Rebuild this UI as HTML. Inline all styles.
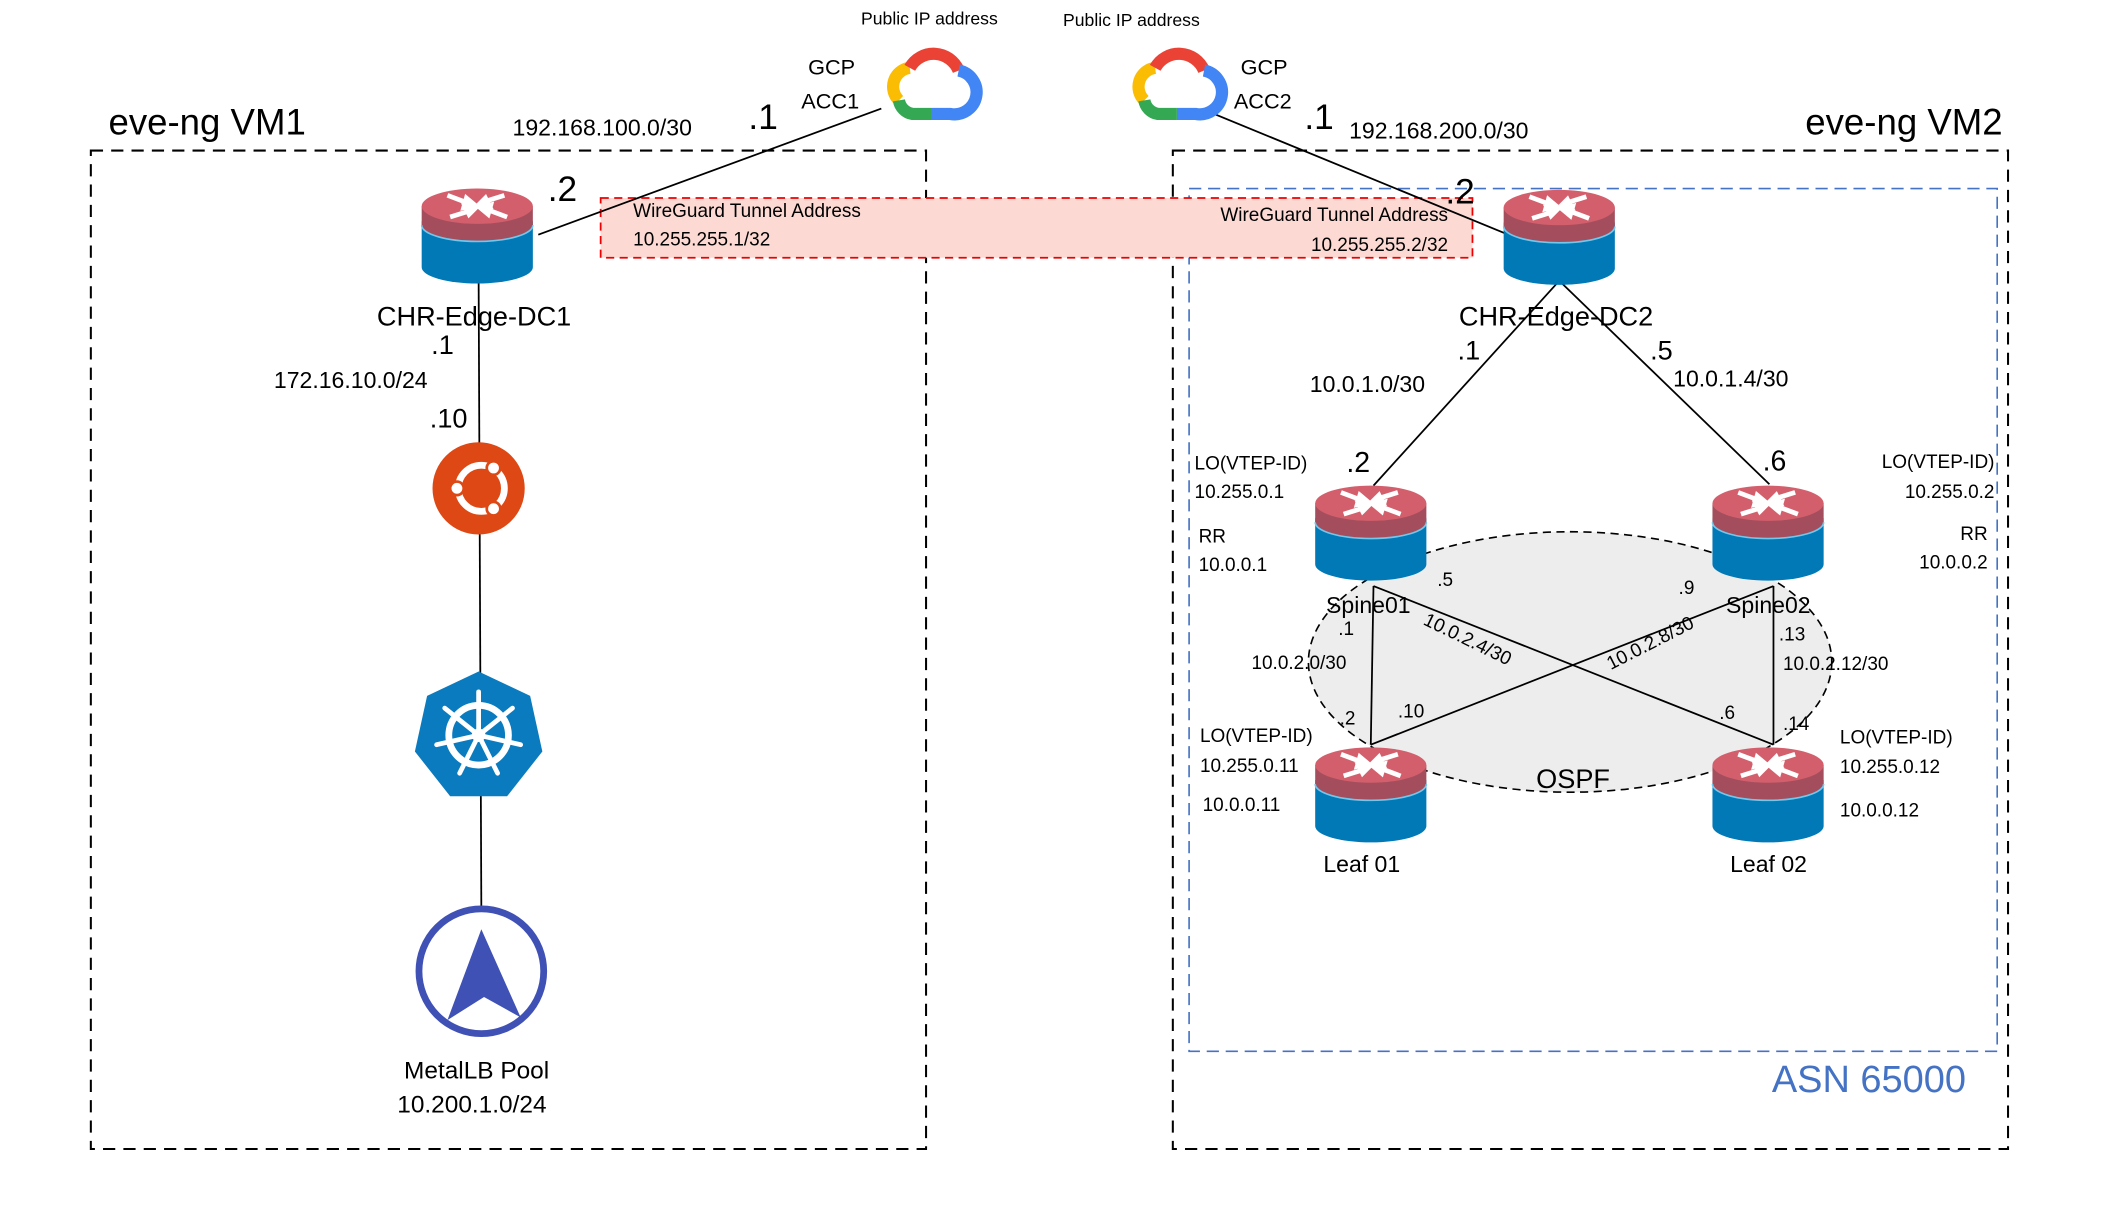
<!DOCTYPE html>
<html><head><meta charset="utf-8"><style>
html,body{margin:0;padding:0;background:#fff;width:2126px;height:1210px;overflow:hidden}
svg{display:block}
text{font-family:"Liberation Sans",sans-serif;fill:#000}
</style></head><body>
<svg width="2126" height="1210" viewBox="0 0 1568 892" preserveAspectRatio="none" xmlns="http://www.w3.org/2000/svg">
<defs>
<g id="rt">
 <path d="M-41,24 L-41,58 A41,12 0 0 0 41,58 L41,24 Z" fill="#0079B6"/>
 <path d="M-41,13 L-41,27 A41,12 0 0 0 41,27 L41,13 Z" fill="#A44E5D"/>
 <path d="M-41,27 A41,12 0 0 0 41,27" fill="none" stroke="#6fc8ee" stroke-width="1.2"/>
 <ellipse cx="0" cy="13" rx="41" ry="13" fill="#D35F6C"/>
 <g stroke="#fff" stroke-width="3.5" fill="#fff">
  <line x1="-22" y1="5" x2="-6" y2="11"/><line x1="22" y1="21" x2="6" y2="15"/>
  <line x1="-20" y1="21" x2="-4" y2="16"/><line x1="20" y1="5" x2="4" y2="10"/>
  <path d="M-8,7 L-2,12 L-10,14 Z"/><path d="M8,19 L2,14 L10,12 Z"/>
  <path d="M-6,19 L-1,14 L-9,13 Z" /><path d="M6,7 L1,12 L9,13 Z"/>
 </g>
</g>
<g id="cloud">
 <path d="M-22,12 A14,14 0 0 1 -14,-12" fill="none" stroke="#FBBC04" stroke-width="9"/>
 <path d="M-14,-12 A20,20 0 0 1 22,-10" fill="none" stroke="#EA4335" stroke-width="9"/>
 <path d="M22,-10 A16,16 0 0 1 16,22 L2,22" fill="none" stroke="#4285F4" stroke-width="9"/>
 <path d="M2,22 L-12,22 A12,12 0 0 1 -22,12" fill="none" stroke="#34A853" stroke-width="9"/>
</g>
</defs>

<rect x="67" y="111" width="616" height="736" fill="none" stroke="#000" stroke-width="1.5" stroke-dasharray="9,6"/>
<rect x="865" y="111" width="616" height="736" fill="none" stroke="#000" stroke-width="1.5" stroke-dasharray="9,6"/>
<rect x="877" y="139" width="596" height="636" fill="none" stroke="#4472C4" stroke-width="1.2" stroke-dasharray="9,5"/>
<text x="80" y="99" font-size="27">eve-ng VM1</text>
<text x="1477" y="99" font-size="27" text-anchor="end">eve-ng VM2</text>
<text x="1450" y="805" font-size="28" text-anchor="end" style="fill:#4472C4">ASN 65000</text>

<ellipse cx="1158" cy="488" rx="193" ry="96" fill="#EDEDED" stroke="#000" stroke-width="1.2" stroke-dasharray="6,4"/>

<rect x="443" y="146" width="643" height="44" fill="#FCDAD3" stroke="#E00" stroke-width="1.3" stroke-dasharray="6,4"/>
<text x="467" y="160" font-size="14">WireGuard Tunnel Address</text>
<text x="467" y="181" font-size="14">10.255.255.1/32</text>
<text x="1068" y="163" font-size="14" text-anchor="end">WireGuard Tunnel Address</text>
<text x="1068" y="185" font-size="14" text-anchor="end">10.255.255.2/32</text>

<g stroke="#000" stroke-width="1.3" fill="none">
 <line x1="650" y1="80" x2="397" y2="173"/>
 <line x1="893" y1="83" x2="1110" y2="172"/>
 <line x1="353" y1="205" x2="355" y2="670"/>
 <line x1="1150" y1="207" x2="1013" y2="358"/>
 <line x1="1150" y1="207" x2="1305" y2="357"/>
 <line x1="1013" y1="432" x2="1011" y2="549"/>
 <line x1="1013" y1="432" x2="1308" y2="549"/>
 <line x1="1308" y1="432" x2="1011" y2="549"/>
 <line x1="1308" y1="432" x2="1308" y2="549"/>
</g>

<use href="#cloud" transform="translate(685,62)"/>
<use href="#cloud" transform="translate(866,62)"/>
<text x="635" y="18" font-size="13">Public IP address</text>
<text x="784" y="19" font-size="13">Public IP address</text>
<text x="596" y="55" font-size="16">GCP</text>
<text x="591" y="80" font-size="16">ACC1</text>
<text x="915" y="55" font-size="16">GCP</text>
<text x="910" y="80" font-size="16">ACC2</text>
<text x="552" y="95" font-size="26">.1</text>
<text x="962" y="95" font-size="26">.1</text>
<text x="378" y="100" font-size="17">192.168.100.0/30</text>
<text x="995" y="102" font-size="17">192.168.200.0/30</text>
<text x="404" y="148" font-size="26">.2</text>
<text x="1066" y="150" font-size="26">.2</text>

<use href="#rt" transform="translate(352,139)"/>
<use href="#rt" transform="translate(1150,140)"/>
<use href="#rt" transform="translate(1011,358)"/>
<use href="#rt" transform="translate(1304,358)"/>
<use href="#rt" transform="translate(1011,551)"/>
<use href="#rt" transform="translate(1304,551)"/>

<text x="278" y="240" font-size="20">CHR-Edge-DC1</text>
<text x="1076" y="240" font-size="20">CHR-Edge-DC2</text>
<text x="318" y="261" font-size="20">.1</text>
<text x="202" y="286" font-size="17">172.16.10.0/24</text>
<text x="317" y="315" font-size="20">.10</text>

<circle cx="353" cy="360" r="34" fill="#DD4814"/>
<circle cx="355" cy="360" r="17" fill="none" stroke="#fff" stroke-width="5"/>
<circle cx="337" cy="360" r="5" fill="#fff" stroke="#DD4814" stroke-width="2"/>
<circle cx="364" cy="345" r="5" fill="#fff" stroke="#DD4814" stroke-width="2"/>
<circle cx="364" cy="375" r="5" fill="#fff" stroke="#DD4814" stroke-width="2"/>

<polygon points="353,495 391,513 400,554 374,587 332,587 306,554 315,513" fill="#0A7BBE"/>
<circle cx="353" cy="542" r="22" fill="none" stroke="#fff" stroke-width="5"/>
<g stroke="#fff" stroke-width="3.5" stroke-linecap="round">
 <line x1="353" y1="542" x2="353" y2="510"/><line x1="353" y1="542" x2="378" y2="522"/>
 <line x1="353" y1="542" x2="384" y2="549"/><line x1="353" y1="542" x2="367" y2="570"/>
 <line x1="353" y1="542" x2="339" y2="570"/><line x1="353" y1="542" x2="322" y2="549"/>
 <line x1="353" y1="542" x2="328" y2="522"/>
</g>
<circle cx="353" cy="542" r="5" fill="#fff"/>

<circle cx="355" cy="716" r="46" fill="#fff" stroke="#3F51B5" stroke-width="5"/>
<polygon points="355,685 384,750 357,735 330,752" fill="#3F51B5"/>

<text x="298" y="795" font-size="18">MetalLB Pool</text>
<text x="293" y="820" font-size="18">10.200.1.0/24</text>

<text x="1075" y="265" font-size="20">.1</text>
<text x="966" y="289" font-size="17">10.0.1.0/30</text>
<text x="1217" y="265" font-size="20">.5</text>
<text x="1234" y="285" font-size="17">10.0.1.4/30</text>
<text x="993" y="348" font-size="21">.2</text>
<text x="1300" y="347" font-size="21">.6</text>

<g font-size="14">
<text x="881" y="346">LO(VTEP-ID)</text>
<text x="881" y="367">10.255.0.1</text>
<text x="884" y="400">RR</text>
<text x="884" y="421">10.0.0.1</text>
<text x="1471" y="345" text-anchor="end">LO(VTEP-ID)</text>
<text x="1471" y="367" text-anchor="end">10.255.0.2</text>
<text x="1466" y="398" text-anchor="end">RR</text>
<text x="1466" y="419" text-anchor="end">10.0.0.2</text>
<text x="885" y="547">LO(VTEP-ID)</text>
<text x="885" y="569">10.255.0.11</text>
<text x="887" y="598">10.0.0.11</text>
<text x="1357" y="548">LO(VTEP-ID)</text>
<text x="1357" y="570">10.255.0.12</text>
<text x="1357" y="602">10.0.0.12</text>
<text x="1060" y="432">.5</text>
<text x="1238" y="438">.9</text>
<text x="987" y="468">.1</text>
<text x="923" y="493">10.0.2.0/30</text>
<text x="1312" y="472">.13</text>
<text x="1315" y="494">10.0.2.12/30</text>
<text x="988" y="534">.2</text>
<text x="1031" y="529">.10</text>
<text x="1268" y="530">.6</text>
<text x="1315" y="538">.14</text>
<text transform="translate(1049,460) rotate(26)">10.0.2.4/30</text>
<text transform="translate(1188,494) rotate(-27)">10.0.2.8/30</text>
</g>
<text x="978" y="452" font-size="17">Spine01</text>
<text x="1273" y="452" font-size="17">Spine02</text>
<text x="1133" y="581" font-size="20">OSPF</text>
<text x="976" y="643" font-size="17">Leaf 01</text>
<text x="1276" y="643" font-size="17">Leaf 02</text>
</svg>
</body></html>
